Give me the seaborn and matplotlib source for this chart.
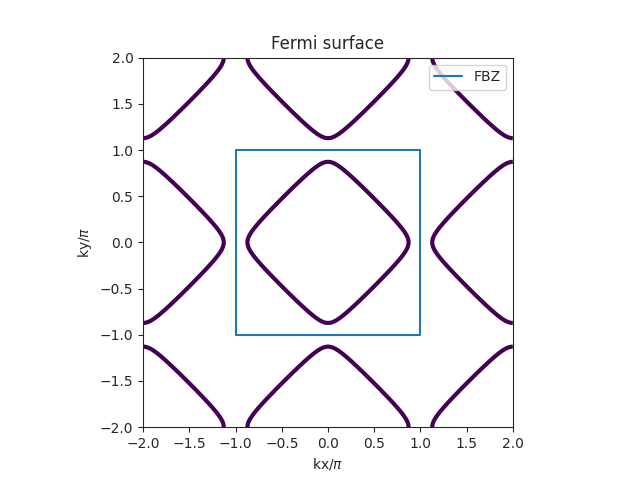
import numpy as np
import pandas as pd
import seaborn as sns
import matplotlib.pyplot as plt

# tight-binding parameters
t = 1.0
tp = 0.0
mu = -0.16

# first Brillouin zone outline (units of pi)
box_x = [-1, 1, 1, -1, -1]
box_y = [-1, -1, 1, 1, -1]

k = np.linspace(-2, 2, 801)
KX, KY = np.meshgrid(k, k)
E = -2*t*(np.cos(np.pi*KX) + np.cos(np.pi*KY)) - 4*tp*np.cos(np.pi*KX)*np.cos(np.pi*KY)

sns.set_style("ticks")
plt.rcParams['font.family'] = ['DejaVu Sans']

fig, ax = plt.subplots(figsize=(6.4, 4.8), dpi=100)
ax.contour(KX, KY, E, levels=[mu], linewidths=3, cmap='viridis')

df = pd.DataFrame({'kx': box_x, 'ky': box_y})
sns.lineplot(x='kx', y='ky', data=df, sort=False, estimator=None, color='#1f77b4',
             label='FBZ', ax=ax, linewidth=1.5)

ax.set_xlim(-2, 2)
ax.set_ylim(-2, 2)
ax.set_aspect('equal')
ax.set_xticks(np.arange(-2, 2.01, 0.5))
ax.set_yticks(np.arange(-2, 2.01, 0.5))
ax.set_xlabel(r'kx/$\pi$')
ax.set_ylabel(r'ky/$\pi$')
ax.set_title('Fermi surface')
ax.legend(loc='upper right')

plt.savefig('out.png', dpi=100)
